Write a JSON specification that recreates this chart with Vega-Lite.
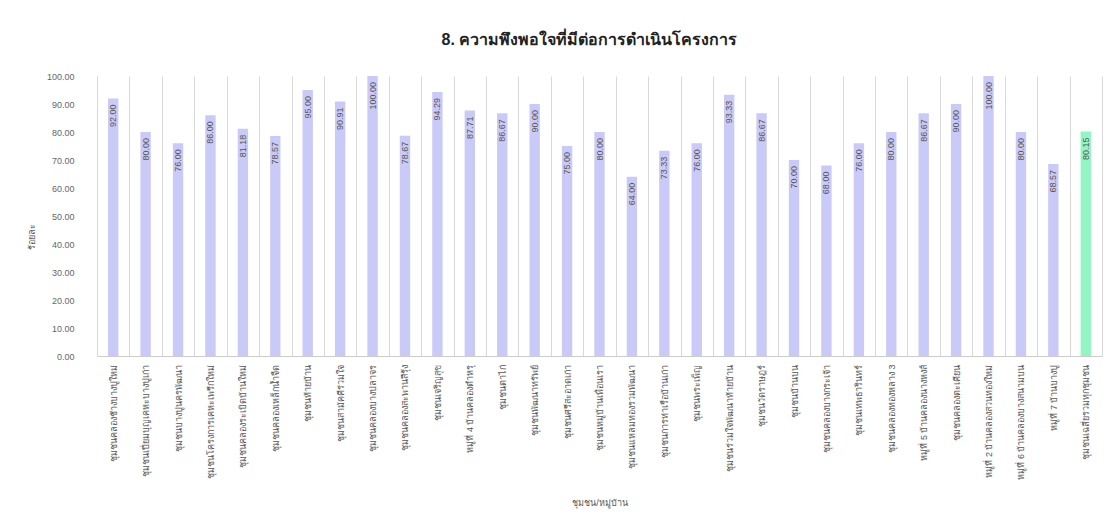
{
  "$schema": "https://vega.github.io/schema/vega-lite/v6.json",
  "width": 1005,
  "height": 280,
  "autosize": {"type": "none"},
  "padding": {"left": 97, "top": 76, "right": 15, "bottom": 165},
  "background": "#ffffff",
  "title": {
    "text": "8. ความพึงพอใจที่มีต่อการดำเนินโครงการ",
    "fontSize": 16,
    "fontWeight": "bold",
    "color": "#222222",
    "anchor": "middle",
    "dx": -10,
    "offset": 24
  },
  "data": {
    "values": [
      {"name": "ชุมชนคลองช้างบางปูใหม่", "value": 92.00, "kind": "ชุมชน"},
      {"name": "ชุมชนเปี่ยมบุญเคหะบางปูเก่า", "value": 80.00, "kind": "ชุมชน"},
      {"name": "ชุมชนบางปูนครพัฒนา", "value": 76.00, "kind": "ชุมชน"},
      {"name": "ชุมชนโครงการเคหะเพรีกใหม่", "value": 86.00, "kind": "ชุมชน"},
      {"name": "ชุมชนคลองระเบิดบ้านใหม่", "value": 81.18, "kind": "ชุมชน"},
      {"name": "ชุมชนคลองเหล็กน้ำจืด", "value": 78.57, "kind": "ชุมชน"},
      {"name": "ชุมชนท้ายบ้าน", "value": 95.00, "kind": "ชุมชน"},
      {"name": "ชุมชนสามัคคีร่วมใจ", "value": 90.91, "kind": "ชุมชน"},
      {"name": "ชุมชนคลองบางปลาจร", "value": 100.00, "kind": "ชุมชน"},
      {"name": "ชุมชนคลองสะพานสีรุ้ง", "value": 78.67, "kind": "ชุมชน"},
      {"name": "ชุมชนเจริญสุข", "value": 94.29, "kind": "ชุมชน"},
      {"name": "หมู่ที่ 4 บ้านคลองตำหรุ", "value": 87.71, "kind": "ชุมชน"},
      {"name": "ชุมชนตาไก่", "value": 86.67, "kind": "ชุมชน"},
      {"name": "ชุมชนพัฒนาทรัพย์", "value": 90.00, "kind": "ชุมชน"},
      {"name": "ชุมชนศรีสะอาดเก่า", "value": 75.00, "kind": "ชุมชน"},
      {"name": "ชุมชนหมู่บ้านเพื่อนเรา", "value": 80.00, "kind": "ชุมชน"},
      {"name": "ชุมชนแหลมทองรวมพัฒนา", "value": 64.00, "kind": "ชุมชน"},
      {"name": "ชุมชนการท่าเรือบ้านเก่า", "value": 73.33, "kind": "ชุมชน"},
      {"name": "ชุมชนพระเพ็ญ", "value": 76.00, "kind": "ชุมชน"},
      {"name": "ชุมชนร่วมใจพัฒนาท้ายบ้าน", "value": 93.33, "kind": "ชุมชน"},
      {"name": "ชุมชนวัดราษฎร์", "value": 86.67, "kind": "ชุมชน"},
      {"name": "ชุมชนบ้านบน", "value": 70.00, "kind": "ชุมชน"},
      {"name": "ชุมชนคลองบางกระเจ้า", "value": 68.00, "kind": "ชุมชน"},
      {"name": "ชุมชนเทพธารินทร์", "value": 76.00, "kind": "ชุมชน"},
      {"name": "ชุมชนคลองทองหลาง 3", "value": 80.00, "kind": "ชุมชน"},
      {"name": "หมู่ที่ 5 บ้านคลองนางหงส์", "value": 86.67, "kind": "ชุมชน"},
      {"name": "ชุมชนคลองตะเคียน", "value": 90.00, "kind": "ชุมชน"},
      {"name": "หมู่ที่ 2 บ้านคลองสวนทองใหม่", "value": 100.00, "kind": "ชุมชน"},
      {"name": "หมู่ที่ 6 บ้านคลองบางสนามบน", "value": 80.00, "kind": "ชุมชน"},
      {"name": "หมู่ที่ 7 บ้านบางปู", "value": 68.57, "kind": "ชุมชน"},
      {"name": "ชุมชนเฉลี่ยรวมทุกชุมชน", "value": 80.15, "kind": "รวม"}
    ]
  },
  "encoding": {
    "x": {
      "field": "name",
      "type": "nominal",
      "sort": null,
      "scale": {"paddingInner": 0, "paddingOuter": 0},
      "axis": {
        "title": "ชุมชน/หมู่บ้าน",
        "titleFontSize": 9,
        "titleFontWeight": "normal",
        "titleColor": "#555555",
        "titleY": 146,
        "titleBaseline": "middle",
        "labelAngle": -90,
        "labelFontSize": 9,
        "labelColor": "#555555",
        "labelPadding": 8,
        "labelLimit": 200,
        "ticks": false,
        "tickBand": "extent",
        "grid": true,
        "gridColor": "#d9d9d9",
        "domainColor": "#cccccc"
      }
    },
    "y": {
      "field": "value",
      "type": "quantitative",
      "scale": {"domain": [0, 100], "nice": false},
      "axis": {
        "title": "ร้อยละ",
        "titleFontSize": 9,
        "titleFontWeight": "normal",
        "titleColor": "#555555",
        "titleX": -66,
        "titleY": 160,
        "titleAlign": "center",
        "titleBaseline": "middle",
        "values": [0, 10, 20, 30, 40, 50, 60, 70, 80, 90, 100],
        "format": ".2f",
        "labelFontSize": 9,
        "labelColor": "#666666",
        "labelPadding": 23,
        "ticks": false,
        "grid": false,
        "domainColor": "#d9d9d9"
      }
    }
  },
  "layer": [
    {
      "mark": {"type": "bar", "width": {"band": 0.32}},
      "encoding": {
        "color": {
          "field": "kind",
          "type": "nominal",
          "scale": {"domain": ["ชุมชน", "รวม"], "range": ["#cacaf8", "#93f5c4"]},
          "legend": null
        }
      }
    },
    {
      "mark": {
        "type": "text",
        "angle": 270,
        "align": "right",
        "baseline": "middle",
        "dx": -6,
        "fontSize": 9,
        "color": "#555555"
      },
      "encoding": {
        "text": {"field": "value", "type": "quantitative", "format": ".2f"}
      }
    }
  ],
  "config": {"view": {"stroke": null}}
}
